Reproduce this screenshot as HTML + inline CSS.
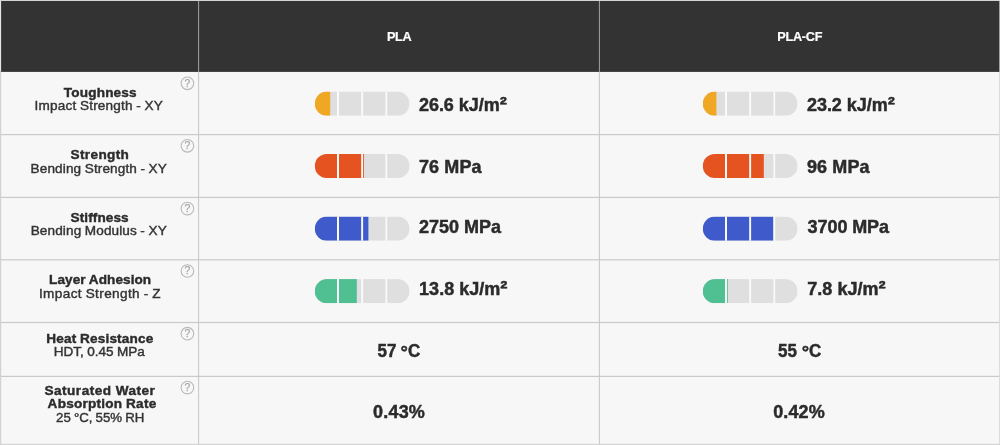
<!DOCTYPE html>
<html lang="en">
<head>
<meta charset="utf-8">
<title>PLA vs PLA-CF comparison</title>
<style>
html,body{margin:0;padding:0;background:#f7f7f7;}
body{width:1000px;height:445px;overflow:hidden;}
svg{display:block;}
text{font-family:'Liberation Sans', Arial, sans-serif;white-space:pre;}
</style>
</head>
<body>
<svg width="1000" height="445" viewBox="0 0 1000 445" role="table" aria-label="Material comparison">
<rect x="0" y="0" width="1000" height="445" fill="#f7f7f7"/>
<g id="header">
<rect x="0" y="0" width="1000" height="71.9" fill="#333333"/>
</g>
<g id="grid">
<rect x="0" y="134.0" width="1000" height="1.2" fill="#cacaca"/>
<rect x="0" y="196.8" width="1000" height="1.2" fill="#cacaca"/>
<rect x="0" y="259.2" width="1000" height="1.2" fill="#cacaca"/>
<rect x="0" y="321.9" width="1000" height="1.2" fill="#cacaca"/>
<rect x="0" y="375.8" width="1000" height="1.2" fill="#cacaca"/>
</g>
<g id="grid-v">
<rect x="198.1" y="0" width="1" height="71.7" fill="#a2a2a2"/>
<rect x="198.1" y="71.7" width="1" height="373.3" fill="#c6c6c6"/>
<rect x="598.9" y="0" width="1" height="71.7" fill="#a2a2a2"/>
<rect x="598.9" y="71.7" width="1" height="373.3" fill="#c6c6c6"/>
<rect x="0" y="0" width="1000" height="1" fill="#d4d4d4"/>
<rect x="0" y="1" width="1.1" height="70.7" fill="#e6e6e6"/>
<rect x="0" y="71.7" width="1.2" height="373.3" fill="#d2d2d2"/>
<rect x="999.2" y="1" width="0.8" height="70.7" fill="#bdbdbd"/>
<rect x="999" y="71.7" width="1" height="373.3" fill="#dcdcdc"/>
<rect x="0" y="443.8" width="1000" height="1.2" fill="#d4d4d4"/>
</g>
<defs>
<clipPath id="c0"><rect x="314.8" y="91.6" width="94.8" height="24.1" rx="12.05" ry="12.05"/></clipPath>
<clipPath id="c1"><rect x="314.8" y="153.9" width="94.8" height="24.1" rx="12.05" ry="12.05"/></clipPath>
<clipPath id="c2"><rect x="314.8" y="216.6" width="94.8" height="24.1" rx="12.05" ry="12.05"/></clipPath>
<clipPath id="c3"><rect x="314.8" y="279.1" width="94.8" height="24.1" rx="12.05" ry="12.05"/></clipPath>
<clipPath id="c4"><rect x="702.8" y="91.6" width="94.8" height="24.1" rx="12.05" ry="12.05"/></clipPath>
<clipPath id="c5"><rect x="702.8" y="153.9" width="94.8" height="24.1" rx="12.05" ry="12.05"/></clipPath>
<clipPath id="c6"><rect x="702.8" y="216.6" width="94.8" height="24.1" rx="12.05" ry="12.05"/></clipPath>
<clipPath id="c7"><rect x="702.8" y="279.1" width="94.8" height="24.1" rx="12.05" ry="12.05"/></clipPath>
</defs>
<g id="bars">
<g clip-path="url(#c0)"><rect x="314.8" y="91.6" width="94.8" height="24.1" fill="#dfdfdf"/><rect x="314.8" y="91.6" width="15.4" height="24.1" fill="#efa724"/><rect x="337.0" y="90.6" width="2.0" height="26.1" fill="#fafafa"/><rect x="361.2" y="90.6" width="1.9" height="26.1" fill="#fafafa"/><rect x="385.4" y="90.6" width="1.8" height="26.1" fill="#fafafa"/></g>
<g clip-path="url(#c1)"><rect x="314.8" y="153.9" width="94.8" height="24.1" fill="#dfdfdf"/><rect x="314.8" y="153.9" width="49.2" height="24.1" fill="#e55420"/><rect x="337.0" y="152.9" width="2.0" height="26.1" fill="#fafafa"/><rect x="361.2" y="152.9" width="1.9" height="26.1" fill="#fafafa"/><rect x="385.4" y="152.9" width="1.8" height="26.1" fill="#fafafa"/></g>
<g clip-path="url(#c2)"><rect x="314.8" y="216.6" width="94.8" height="24.1" fill="#dfdfdf"/><rect x="314.8" y="216.6" width="53.6" height="24.1" fill="#3f5bcb"/><rect x="337.0" y="215.6" width="2.0" height="26.1" fill="#fafafa"/><rect x="361.2" y="215.6" width="1.9" height="26.1" fill="#fafafa"/><rect x="385.4" y="215.6" width="1.8" height="26.1" fill="#fafafa"/></g>
<g clip-path="url(#c3)"><rect x="314.8" y="279.1" width="94.8" height="24.1" fill="#dfdfdf"/><rect x="314.8" y="279.1" width="42.0" height="24.1" fill="#50bf92"/><rect x="337.0" y="278.1" width="2.0" height="26.1" fill="#fafafa"/><rect x="361.2" y="278.1" width="1.9" height="26.1" fill="#fafafa"/><rect x="385.4" y="278.1" width="1.8" height="26.1" fill="#fafafa"/></g>
<g clip-path="url(#c4)"><rect x="702.8" y="91.6" width="94.8" height="24.1" fill="#dfdfdf"/><rect x="702.8" y="91.6" width="13.6" height="24.1" fill="#efa724"/><rect x="725.0" y="90.6" width="2.0" height="26.1" fill="#fafafa"/><rect x="749.2" y="90.6" width="1.9" height="26.1" fill="#fafafa"/><rect x="773.4" y="90.6" width="1.8" height="26.1" fill="#fafafa"/></g>
<g clip-path="url(#c5)"><rect x="702.8" y="153.9" width="94.8" height="24.1" fill="#dfdfdf"/><rect x="702.8" y="153.9" width="61.0" height="24.1" fill="#e55420"/><rect x="725.0" y="152.9" width="2.0" height="26.1" fill="#fafafa"/><rect x="749.2" y="152.9" width="1.9" height="26.1" fill="#fafafa"/><rect x="773.4" y="152.9" width="1.8" height="26.1" fill="#fafafa"/></g>
<g clip-path="url(#c6)"><rect x="702.8" y="216.6" width="94.8" height="24.1" fill="#dfdfdf"/><rect x="702.8" y="216.6" width="70.6" height="24.1" fill="#3f5bcb"/><rect x="725.0" y="215.6" width="2.0" height="26.1" fill="#fafafa"/><rect x="749.2" y="215.6" width="1.9" height="26.1" fill="#fafafa"/><rect x="773.4" y="215.6" width="1.8" height="26.1" fill="#fafafa"/></g>
<g clip-path="url(#c7)"><rect x="702.8" y="279.1" width="94.8" height="24.1" fill="#dfdfdf"/><rect x="702.8" y="279.1" width="25.0" height="24.1" fill="#50bf92"/><rect x="725.0" y="278.1" width="2.0" height="26.1" fill="#fafafa"/><rect x="749.2" y="278.1" width="1.9" height="26.1" fill="#fafafa"/><rect x="773.4" y="278.1" width="1.8" height="26.1" fill="#fafafa"/></g>
</g>
<g id="help-icons" fill="none" stroke="#b9b9b9" stroke-width="1.1">
<circle cx="187.4" cy="83.3" r="6.3"/>
<circle cx="187.4" cy="145.8" r="6.3"/>
<circle cx="187.4" cy="208.6" r="6.3"/>
<circle cx="187.4" cy="271.0" r="6.3"/>
<circle cx="187.4" cy="333.7" r="6.3"/>
<circle cx="187.4" cy="387.6" r="6.3"/>
</g>
<g id="help-q" fill="#a8a8a8" stroke="#a8a8a8" stroke-width="0.25" font-size="10.4" text-anchor="middle">
<text x="187.5" y="87.0">?</text>
<text x="187.5" y="149.0">?</text>
<text x="187.5" y="212.0">?</text>
<text x="187.5" y="274.0">?</text>
<text x="187.5" y="337.0">?</text>
<text x="187.5" y="391.0">?</text>
</g>
<g id="labels">
<text id="h1" transform="translate(386.94,41) scale(1.0,1)" font-size="12.7" font-weight="700" fill="#ffffff" stroke="#ffffff" stroke-width="0.2" letter-spacing="-0.330">PLA</text>
<text id="h2" transform="translate(777.35,41) scale(1.0,1)" font-size="12.7" font-weight="700" fill="#ffffff" stroke="#ffffff" stroke-width="0.2" letter-spacing="-0.294">PLA-CF</text>
<text id="l0a" transform="translate(63.86,97) scale(1.045,1)" font-size="13" font-weight="700" fill="#2b2b2b" stroke="#2b2b2b" stroke-width="0.4" letter-spacing="0.164">Toughness</text>
<text id="l0b" transform="translate(34.50,110) scale(1.045,1)" font-size="13" font-weight="400" fill="#333333" stroke="#333333" stroke-width="0.4" letter-spacing="0.184" word-spacing="-0.4">Impact Strength - XY</text>
<text id="l1a" transform="translate(70.55,159) scale(1.045,1)" font-size="13" font-weight="700" fill="#2b2b2b" stroke="#2b2b2b" stroke-width="0.4" letter-spacing="0.342">Strength</text>
<text id="l1b" transform="translate(30.62,173) scale(1.045,1)" font-size="13" font-weight="400" fill="#333333" stroke="#333333" stroke-width="0.4" letter-spacing="0.114" word-spacing="-0.4">Bending Strength - XY</text>
<text id="l2a" transform="translate(70.55,222) scale(1.045,1)" font-size="13" font-weight="700" fill="#2b2b2b" stroke="#2b2b2b" stroke-width="0.4" letter-spacing="0.091">Stiffness</text>
<text id="l2b" transform="translate(30.70,235) scale(1.045,1)" font-size="13" font-weight="400" fill="#333333" stroke="#333333" stroke-width="0.4" letter-spacing="0.112" word-spacing="-0.4">Bending Modulus - XY</text>
<text id="l3a" transform="translate(49.06,284) scale(1.045,1)" font-size="13" font-weight="700" fill="#2b2b2b" stroke="#2b2b2b" stroke-width="0.4" letter-spacing="0.072" word-spacing="-0.2">Layer Adhesion</text>
<text id="l3b" transform="translate(38.97,298) scale(1.045,1)" font-size="13" font-weight="400" fill="#333333" stroke="#333333" stroke-width="0.4" letter-spacing="0.361" word-spacing="-0.4">Impact Strength - Z</text>
<text id="l4a" transform="translate(46.28,343) scale(1.045,1)" font-size="13" font-weight="700" fill="#2b2b2b" stroke="#2b2b2b" stroke-width="0.4" letter-spacing="0.158" word-spacing="-0.2">Heat Resistance</text>
<text id="l4b" transform="translate(53.72,356) scale(1.045,1)" font-size="13" font-weight="400" fill="#333333" stroke="#333333" stroke-width="0.4" letter-spacing="-0.008" word-spacing="-0.4">HDT, 0.45 MPa</text>
<text id="l5a" transform="translate(44.40,395) scale(1.045,1)" font-size="13" font-weight="700" fill="#2b2b2b" stroke="#2b2b2b" stroke-width="0.4" letter-spacing="0.487" word-spacing="-0.2">Saturated Water</text>
<text id="l5b" transform="translate(47.61,408) scale(1.045,1)" font-size="13" font-weight="700" fill="#2b2b2b" stroke="#2b2b2b" stroke-width="0.4" letter-spacing="0.221" word-spacing="-0.2">Absorption Rate</text>
<text id="l5c" transform="translate(56.09,422) scale(1.02,1)" font-size="13" font-weight="400" fill="#333333" stroke="#333333" stroke-width="0.4" letter-spacing="-0.049" word-spacing="-0.4">25 °C, 55% RH</text>
<text id="v0a" transform="translate(418.91,111) scale(1.03,1)" font-size="17.5" font-weight="700" fill="#2b2b2b" stroke="#2b2b2b" stroke-width="0.45" letter-spacing="-0.025">26.6 kJ/m<tspan font-size="21">²</tspan></text>
<text id="v1a" transform="translate(419.00,173) scale(1.03,1)" font-size="17.5" font-weight="700" fill="#2b2b2b" stroke="#2b2b2b" stroke-width="0.45" letter-spacing="0.092">76 MPa</text>
<text id="v2a" transform="translate(418.91,233) scale(1.03,1)" font-size="17.5" font-weight="700" fill="#2b2b2b" stroke="#2b2b2b" stroke-width="0.45" letter-spacing="0.007">2750 MPa</text>
<text id="v3a" transform="translate(419.10,295) scale(1.03,1)" font-size="17.5" font-weight="700" fill="#2b2b2b" stroke="#2b2b2b" stroke-width="0.45" letter-spacing="0.007">13.8 kJ/m<tspan font-size="21">²</tspan></text>
<text id="v4a" transform="translate(377.60,357) scale(0.97,1)" font-size="17.5" font-weight="700" fill="#2b2b2b" stroke="#2b2b2b" stroke-width="0.45" letter-spacing="0.000" word-spacing="-0.608">57 <tspan font-size="19" dy="0.9">°</tspan><tspan dy="-0.9">C</tspan></text>
<text id="v5a" transform="translate(373.00,418) scale(1.03,1)" font-size="17.5" font-weight="700" fill="#2b2b2b" stroke="#2b2b2b" stroke-width="0.45" letter-spacing="0.192">0.43%</text>
<text id="v0b" transform="translate(806.91,111) scale(1.03,1)" font-size="17.5" font-weight="700" fill="#2b2b2b" stroke="#2b2b2b" stroke-width="0.45" letter-spacing="-0.025">23.2 kJ/m<tspan font-size="21">²</tspan></text>
<text id="v1b" transform="translate(807.00,173) scale(1.03,1)" font-size="17.5" font-weight="700" fill="#2b2b2b" stroke="#2b2b2b" stroke-width="0.45" letter-spacing="0.092">96 MPa</text>
<text id="v2b" transform="translate(807.61,233) scale(1.03,1)" font-size="17.5" font-weight="700" fill="#2b2b2b" stroke="#2b2b2b" stroke-width="0.45" letter-spacing="-0.091">3700 MPa</text>
<text id="v3b" transform="translate(807.31,295) scale(1.03,1)" font-size="17.5" font-weight="700" fill="#2b2b2b" stroke="#2b2b2b" stroke-width="0.45" letter-spacing="0.011">7.8 kJ/m<tspan font-size="21">²</tspan></text>
<text id="v4b" transform="translate(778.04,357) scale(0.97,1)" font-size="17.5" font-weight="700" fill="#2b2b2b" stroke="#2b2b2b" stroke-width="0.45" letter-spacing="0.000" word-spacing="0.06">55 <tspan font-size="19" dy="0.9">°</tspan><tspan dy="-0.9">C</tspan></text>
<text id="v5b" transform="translate(773.16,418) scale(1.03,1)" font-size="17.5" font-weight="700" fill="#2b2b2b" stroke="#2b2b2b" stroke-width="0.45" letter-spacing="0.130">0.42%</text>
</g>
</svg>
</body>
</html>
